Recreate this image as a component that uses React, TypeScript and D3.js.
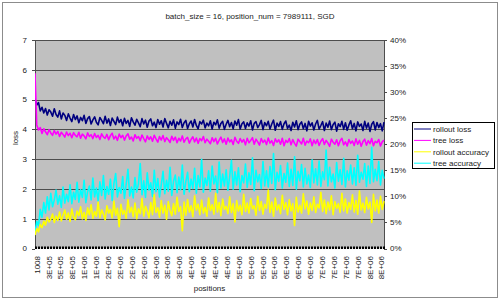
import React from "react";
import * as d3 from "d3";

const TITLE = "batch_size = 16, position_num = 7989111, SGD";
const TOTAL_CATEGORIES = 7926;
const LABEL_STEP = 270;
const xTickLabels = [
  "1008", "3E+05", "5E+05", "8E+05", "1E+06", "1E+06", "2E+06", "2E+06", "2E+06", "2E+06",
  "3E+06", "3E+06", "3E+06", "4E+06", "4E+06", "4E+06", "4E+06", "5E+06", "5E+06", "5E+06",
  "5E+06", "6E+06", "6E+06", "6E+06", "7E+06", "7E+06", "7E+06", "7E+06", "8E+06", "8E+06",
];
const lossTicks = [0, 1, 2, 3, 4, 5, 6, 7];
const accTicks = [0, 5, 10, 15, 20, 25, 30, 35, 40];

const seriesNames = ["rollout loss", "tree loss", "rollout accuracy", "tree accuracy"];
const seriesColors = ["#000080", "#ff00ff", "#ffff00", "#00ffff"];

// loss (left axis)
const rolloutLoss = [
  5.02, 4.82, 4.9, 4.62, 4.74, 4.55, 4.7, 4.48, 4.66, 4.58, 4.44, 4.69, 4.5, 4.41, 4.62, 4.35, 4.55, 4.47, 4.3, 4.52,
  4.38, 4.26, 4.5, 4.33, 4.45, 4.22, 4.4, 4.29, 4.47, 4.2, 4.36, 4.43, 4.18, 4.32, 4.42, 4.24, 4.15, 4.4, 4.3, 4.19,
  4.44, 4.21, 4.35, 4.13, 4.38, 4.27, 4.16, 4.41, 4.23, 4.33, 4.12, 4.37, 4.2, 4.3, 4.1, 4.39, 4.25, 4.14, 4.34, 4.22,
  4.09, 4.36, 4.18, 4.31, 4.07, 4.28, 4.35, 4.12, 4.24, 4.06, 4.33, 4.17, 4.29, 4.08, 4.36, 4.2, 4.05, 4.27, 4.14, 4.32,
  4.04, 4.25, 4.16, 4.34, 4.06, 4.22, 4.3, 4.03, 4.19, 4.28, 4.08, 4.33, 4.13, 4.02, 4.26, 4.18, 4.31, 4.05, 4.21, 4.12,
  4.29, 4.01, 4.24, 4.15, 4.32, 4.04, 4.2, 4.27, 4.0, 4.17, 4.3, 4.09, 4.23, 4.02, 4.28, 4.14, 4.33, 4.01, 4.19, 4.25,
  4.03, 4.22, 4.11, 4.29, 3.98, 4.2, 4.26, 4.06, 4.16, 4.3, 3.99, 4.23, 4.12, 4.27, 4.01, 4.18, 4.31, 3.97, 4.21, 4.1,
  4.26, 4.0, 4.19, 4.28, 4.03, 4.14, 3.96, 4.24, 4.08, 4.29, 3.99, 4.17, 4.25, 4.02, 4.2, 3.95, 4.27, 4.11, 4.22, 3.98,
  4.18, 4.3, 4.01, 4.13, 4.26, 3.96, 4.21, 4.07, 4.28, 3.99, 4.16, 4.24, 3.94, 4.19, 4.09, 4.27, 4.0, 4.22, 3.97, 4.15,
  4.29, 4.02, 4.2, 3.95, 4.25, 4.1, 4.18, 3.96, 4.27, 4.04, 4.21, 3.93, 4.17, 4.26, 3.98, 4.23, 4.06, 4.19, 3.95, 4.24,
];
const treeLoss = [
  5.88, 4.15, 3.98, 4.06, 3.86, 4.02, 3.92, 3.82, 3.99, 3.88, 3.8, 3.96, 3.84, 3.93, 3.76, 3.9, 3.83, 3.74, 3.91, 3.79,
  3.87, 3.72, 3.89, 3.8, 3.75, 3.9, 3.7, 3.84, 3.78, 3.68, 3.88, 3.76, 3.82, 3.69, 3.86, 3.73, 3.8, 3.66, 3.85, 3.75,
  3.7, 3.83, 3.65, 3.79, 3.87, 3.68, 3.77, 3.63, 3.84, 3.72, 3.8, 3.64, 3.78, 3.85, 3.67, 3.74, 3.61, 3.82, 3.7, 3.76,
  3.62, 3.81, 3.69, 3.58, 3.78, 3.66, 3.75, 3.6, 3.8, 3.68, 3.57, 3.76, 3.64, 3.79, 3.59, 3.72, 3.65, 3.56, 3.77, 3.63,
  3.74, 3.55, 3.7, 3.61, 3.78, 3.57, 3.68, 3.73, 3.54, 3.66, 3.75, 3.58, 3.71, 3.53, 3.69, 3.62, 3.76, 3.55, 3.67, 3.6,
  3.52, 3.72, 3.59, 3.7, 3.51, 3.64, 3.74, 3.56, 3.68, 3.5, 3.71, 3.58, 3.65, 3.49, 3.73, 3.6, 3.53, 3.69, 3.57, 3.66,
  3.48, 3.7, 3.55, 3.63, 3.72, 3.5, 3.67, 3.58, 3.47, 3.69, 3.56, 3.64, 3.49, 3.71, 3.54, 3.62, 3.46, 3.68, 3.57, 3.65,
  3.5, 3.7, 3.45, 3.63, 3.56, 3.69, 3.48, 3.66, 3.53, 3.44, 3.67, 3.59, 3.51, 3.7, 3.47, 3.61, 3.55, 3.68, 3.45, 3.64,
  3.52, 3.66, 3.46, 3.6, 3.69, 3.49, 3.63, 3.54, 3.43, 3.67, 3.57, 3.5, 3.65, 3.45, 3.62, 3.7, 3.48, 3.58, 3.44, 3.66,
  3.53, 3.61, 3.46, 3.68, 3.5, 3.63, 3.43, 3.59, 3.67, 3.47, 3.62, 3.52, 3.69, 3.45, 3.6, 3.55, 3.66, 3.44, 3.58, 3.64,
];
// accuracy in % (right axis)
const rolloutAccuracy = [
  2.6, 3.8, 3.2, 4.6, 4.0, 5.2, 4.5, 6.0, 5.1, 5.6, 6.6, 5.0, 6.2, 5.4, 7.0, 5.3, 6.4, 7.4, 5.6, 6.8,
  5.2, 7.6, 6.0, 5.5, 7.2, 6.3, 8.0, 5.7, 6.9, 5.4, 7.8, 6.5, 8.4, 5.8, 7.1, 6.2, 8.9, 5.9, 7.4, 6.6,
  5.5, 8.2, 6.8, 7.5, 5.9, 9.1, 6.4, 7.7, 4.2, 8.5, 6.6, 7.3, 5.8, 9.4, 6.9, 7.9, 6.1, 8.7, 5.7, 7.6,
  6.7, 9.6, 6.2, 8.1, 7.2, 5.9, 8.8, 6.5, 10.3, 6.9, 7.8, 6.0, 9.2, 6.8, 8.3, 5.6, 9.0, 7.3, 6.3, 8.6,
  6.6, 9.8, 7.1, 8.0, 3.4, 8.9, 6.4, 9.4, 7.0, 8.2, 6.1, 10.1, 7.4, 8.5, 6.5, 9.3, 6.8, 7.9, 6.2, 9.7,
  7.3, 8.4, 6.6, 10.6, 7.0, 8.8, 6.3, 9.5, 7.5, 8.1, 6.7, 9.9, 6.9, 8.6, 5.1, 9.2, 7.2, 8.3, 6.5, 10.4,
  7.1, 8.7, 6.8, 9.6, 7.6, 8.2, 6.4, 10.0, 7.3, 9.0, 6.6, 8.5, 7.7, 11.2, 6.9, 8.9, 6.2, 9.7, 7.4, 8.4,
  6.7, 10.2, 7.5, 8.8, 6.5, 9.4, 7.2, 8.6, 4.4, 9.8, 7.0, 8.3, 6.8, 10.5, 7.6, 9.1, 6.6, 8.7, 7.3, 9.9,
  6.9, 8.5, 7.8, 10.8, 7.1, 9.3, 6.7, 8.9, 7.4, 10.1, 6.5, 9.0, 7.7, 8.6, 6.9, 10.6, 7.2, 9.5, 6.8, 8.8,
  7.5, 10.3, 7.0, 9.2, 6.6, 11.0, 7.4, 8.7, 6.9, 9.8, 7.6, 8.9, 5.0, 10.4, 7.2, 9.3, 6.8, 10.0, 7.5, 9.1,
];
const treeAccuracy = [
  3.0, 5.2, 4.4, 7.5, 6.0, 8.8, 6.8, 9.9, 7.4, 10.6, 8.0, 9.3, 11.2, 8.5, 10.1, 7.9, 11.8, 8.7, 10.4, 9.0,
  12.2, 8.6, 10.8, 9.4, 12.7, 8.9, 11.3, 9.8, 13.1, 8.8, 10.9, 12.0, 9.3, 13.5, 9.9, 11.6, 9.1, 12.8, 10.2, 14.0,
  9.5, 11.9, 10.4, 13.3, 9.2, 12.5, 14.4, 9.9, 11.7, 10.6, 13.8, 9.6, 12.3, 15.2, 10.1, 11.8, 9.7, 13.6, 10.8, 12.4,
  16.3, 10.3, 13.0, 9.8, 14.5, 11.2, 12.6, 10.0, 15.0, 10.9, 13.4, 9.9, 12.2, 14.8, 10.5, 13.1, 11.0, 15.6, 10.2, 12.9,
  14.1, 10.7, 13.7, 11.3, 16.0, 10.4, 12.8, 14.6, 10.9, 13.3, 11.5, 15.4, 10.6, 14.0, 11.8, 17.1, 10.8, 13.5, 12.1, 14.9,
  11.0, 15.8, 12.4, 13.9, 10.7, 16.6, 11.6, 14.3, 12.0, 15.1, 11.2, 13.8, 16.9, 11.4, 14.7, 12.2, 15.5, 10.9, 14.0, 12.6,
  16.2, 11.7, 14.5, 12.3, 17.4, 11.1, 15.0, 12.8, 14.2, 11.5, 16.7, 12.0, 14.9, 11.8, 15.7, 12.5, 18.2, 11.3, 14.6, 12.9,
  15.9, 11.6, 14.4, 12.7, 16.4, 11.9, 15.2, 12.1, 17.6, 11.4, 14.8, 13.0, 16.1, 11.8, 15.4, 12.4, 14.1, 11.7, 17.0, 12.6,
  15.3, 12.2, 16.8, 11.9, 14.7, 13.2, 18.9, 12.0, 15.6, 12.8, 14.3, 11.6, 16.5, 12.9, 15.1, 12.3, 17.3, 11.8, 14.9, 13.1,
  16.0, 12.4, 15.5, 12.1, 17.9, 12.7, 14.6, 13.3, 16.3, 11.9, 15.8, 12.5, 19.4, 12.8, 15.2, 13.0, 16.7, 12.2, 15.0, 13.4,
];

const W = 500;
const H = 302;
const PL = 35;
const PR = 384;
const PT = 40;
const PB = 248.5;
const FONT = "'Liberation Sans', Arial, sans-serif";

export default function App() {
  const x = d3.scaleLinear().domain([0, TOTAL_CATEGORIES - 1]).range([PL, PR]);
  const yL = d3.scaleLinear().domain([0, 7]).range([PB, PT]);
  const yR = d3.scaleLinear().domain([0, 40]).range([PB, PT]);

  const mk = (vals: number[], y: d3.ScaleLinear<number, number>) => {
    const n = vals.length;
    return d3
      .line<number>()
      .x((_, i) => x((i / (n - 1)) * (TOTAL_CATEGORIES - 1)))
      .y((d) => y(d))(vals) as string;
  };

  const paths = [
    { d: mk(rolloutLoss, yL), c: seriesColors[0] },
    { d: mk(treeLoss, yL), c: seriesColors[1] },
    { d: mk(treeAccuracy, yR), c: seriesColors[3] },
    { d: mk(rolloutAccuracy, yR), c: seriesColors[2] },
  ];

  const gridColor = "#4d4d4d";
  const textColor = "#222";

  return (
    <svg
      width={W}
      height={H}
      style={{ position: "fixed", left: 0, top: 0, background: "#fff" }}
      fontFamily={FONT}
    >
      <defs>
        <clipPath id="plotclip">
          <rect x={PL} y={PT} width={PR - PL + 1} height={PB - PT} />
        </clipPath>
      </defs>
      <rect x={2.5} y={2.5} width={495} height={295} fill="#fff" stroke="#8c8c8c" />
      <text x={250} y={19} textAnchor="middle" fontSize={8} fill={textColor}>
        {TITLE}
      </text>

      <rect x={PL} y={PT} width={PR - PL} height={PB - PT} fill="#c0c0c0" />
      {lossTicks.slice(1).map((t) => (
        <line key={t} x1={PL} x2={PR} y1={Math.round(yL(t)) + 0.5} y2={Math.round(yL(t)) + 0.5} stroke={gridColor} />
      ))}
      <line x1={PL + 0.5} x2={PL + 0.5} y1={PT} y2={PB} stroke={gridColor} />
      <line x1={PR + 0.5} x2={PR + 0.5} y1={PT} y2={PB} stroke={gridColor} />

      <g clipPath="url(#plotclip)">
        {paths.map((p, i) => (
          <path key={i} d={p.d} fill="none" stroke={p.c} strokeWidth={1.6} strokeLinejoin="round" />
        ))}
      </g>

      <line x1={PL} x2={PR + 1} y1={PB - 0.8} y2={PB - 0.8} stroke="#000" strokeWidth={2.4} strokeDasharray="2,1" />

      {lossTicks.map((t) => (
        <g key={t}>
          <line x1={PL - 3} x2={PL} y1={Math.round(yL(t)) + 0.5} y2={Math.round(yL(t)) + 0.5} stroke={gridColor} />
          <text x={27} y={yL(t)} dy="0.35em" textAnchor="end" fontSize={8} fill={textColor}>
            {t}
          </text>
        </g>
      ))}
      {accTicks.map((t) => (
        <g key={t}>
          <line x1={PR} x2={PR + 3} y1={Math.round(yR(t)) + 0.5} y2={Math.round(yR(t)) + 0.5} stroke={gridColor} />
          <text x={390} y={yR(t)} dy="0.35em" textAnchor="start" fontSize={8} fill={textColor}>
            {t}%
          </text>
        </g>
      ))}

      {xTickLabels.map((l, i) => {
        const xx = x(i * LABEL_STEP) + 1.8;
        return (
          <text
            key={i}
            transform={`translate(${xx},256) rotate(-90)`}
            dy="0.35em"
            textAnchor="end"
            fontSize={8}
            fill={textColor}
          >
            {l}
          </text>
        );
      })}

      <text transform="translate(15,138) rotate(-90)" dy="0.35em" textAnchor="middle" fontSize={8} fill={textColor}>
        loss
      </text>
      <text x={(PL + PR) / 2} y={291} textAnchor="middle" fontSize={8} fill={textColor}>
        positions
      </text>

      <rect x={412.5} y={122.5} width={82} height={46} fill="#fff" stroke="#000" />
      {seriesNames.map((s, i) => {
        const yy = 129 + i * 11.4;
        return (
          <g key={s}>
            <line x1={414} x2={431} y1={yy} y2={yy} stroke={seriesColors[i]} strokeWidth={1} />
            <text x={433} y={yy} dy="0.35em" fontSize={8} fill={textColor}>
              {s}
            </text>
          </g>
        );
      })}
    </svg>
  );
}
